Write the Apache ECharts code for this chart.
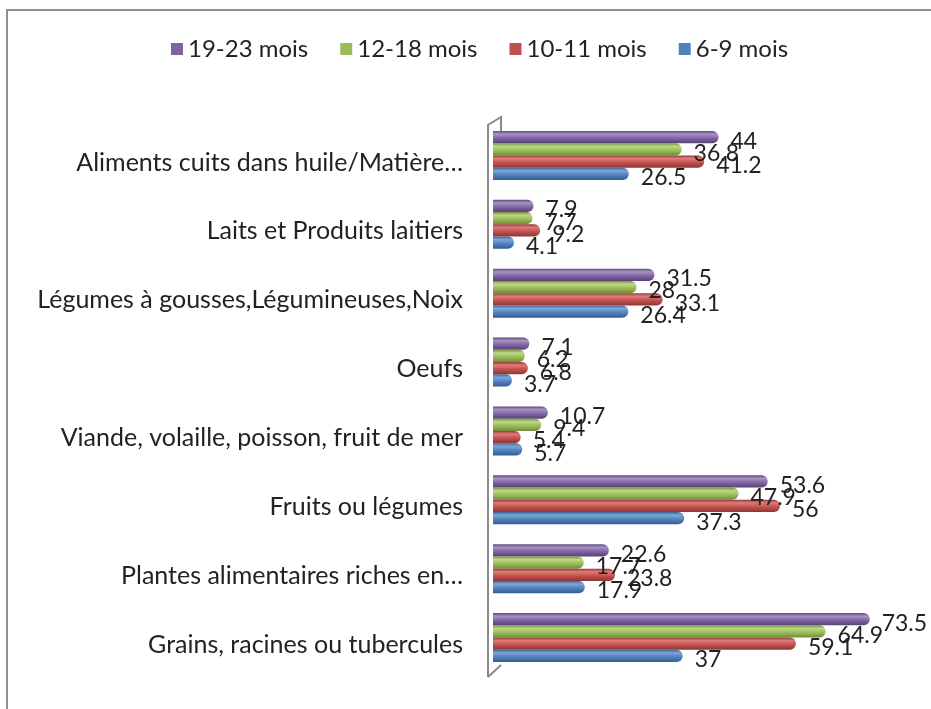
<!DOCTYPE html>
<html>
<head>
<meta charset="utf-8">
<script src="https://cdn.jsdelivr.net/npm/echarts@6/dist/echarts.min.js"></script>
<style>
  html, body { margin: 0; padding: 0; background: #fff; }
  #frame {
    position: absolute; left: 6px; top: 9px; width: 925px; height: 700px;
    border-top: 2px solid #8e8e8e; border-left: 2px solid #8e8e8e;
  }
  #chart { position: absolute; left: 0; top: 0; width: 931px; height: 709px; }
</style>
</head>
<body>
<div id="frame"></div>
<div id="chart"></div>
<script>
// categories bottom -> top (ECharts category axis order)
const categories = [
  "Grains, racines ou tubercules",
  "Plantes alimentaires riches en…",
  "Fruits ou légumes",
  "Viande, volaille, poisson, fruit de mer",
  "Oeufs",
  "Légumes à gousses,Légumineuses,Noix",
  "Laits et Produits laitiers",
  "Aliments cuits dans huile/Matière…"
];

const mois6_9 = [37, 17.9, 37.3, 5.7, 3.7, 26.4, 4.1, 26.5];
const mois10_11 = [59.1, 23.8, 56, 5.4, 6.8, 33.1, 9.2, 41.2];
const mois12_18 = [64.9, 17.7, 47.9, 9.4, 6.2, 28, 7.7, 36.8];
const mois19_23 = [73.5, 22.6, 53.6, 10.7, 7.1, 31.5, 7.9, 44];

const legendOrder = ["19-23 mois", "12-18 mois", "10-11 mois", "6-9 mois"];
const legendColors = ["#8064a2", "#9bbb59", "#c0504d", "#4f81bd"];

const FONT = "Lato, 'Noto Sans', sans-serif";
const GRID_LEFT = 493;
const GRID_TOP = 121;
const GRID_BOTTOM = 37;
const H = 709;

const cylinder = (c) =>
  new echarts.graphic.LinearGradient(0, 0, 0, 1, [
    { offset: 0, color: c[0] },
    { offset: 0.25, color: c[1] },
    { offset: 0.6, color: c[2] },
    { offset: 1, color: c[3] }
  ]);

const makeSeries = (name, data, colors) => ({
  name: name,
  type: "bar",
  data: data,
  barGap: "0%",
  barCategoryGap: "29%",
  itemStyle: {
    color: cylinder(colors),
    borderRadius: [0, 6, 6, 0]
  },
  label: {
    show: true,
    position: "right",
    distance: 6,
    offset: [6, 4],
    color: "#222",
    fontFamily: FONT,
    fontSize: 23
  }
});

const chart = echarts.init(document.getElementById("chart"));

const wallX = GRID_LEFT - 5;
const wallTopY = GRID_TOP + 4;
const wallBottomY = H - GRID_BOTTOM + 5;

chart.setOption({
  backgroundColor: "transparent",
  animation: false,
  legend: {
    data: legendOrder.map((name, i) => ({ name: name, itemStyle: { color: legendColors[i] } })),
    left: 166,
    top: 32,
    itemWidth: 12,
    itemHeight: 12,
    itemGap: 32,
    icon: "rect",
    textStyle: { fontFamily: FONT, fontSize: 24, color: "#222" }
  },
  grid: {
    left: GRID_LEFT,
    right: 28,
    top: GRID_TOP,
    bottom: GRID_BOTTOM,
    containLabel: false
  },
  xAxis: {
    type: "value",
    min: 0,
    max: 80,
    show: false
  },
  yAxis: {
    type: "category",
    data: categories,
    offset: 5,
    axisLine: { show: false },
    axisTick: { show: false },
    axisLabel: {
      margin: 25,
      color: "#222",
      fontFamily: FONT,
      fontSize: 25,
      verticalAlign: "top",
      lineHeight: 14
    }
  },
  // first series is drawn at the top of each group
  series: [
    makeSeries("19-23 mois", mois19_23, ["#5f4a7a", "#a891c6", "#8064a2", "#574172"]),
    makeSeries("12-18 mois", mois12_18, ["#73903c", "#bcd886", "#9bbb59", "#6f8b3b"]),
    makeSeries("10-11 mois", mois10_11, ["#933b39", "#e07b78", "#c0504d", "#8c3735"]),
    makeSeries("6-9 mois", mois6_9, ["#3a6496", "#7fa6d8", "#4f81bd", "#355d8e"])
  ],
  // 3D wall outline (decoration)
  graphic: [
    {
      type: "polyline",
      shape: {
        points: [
          [wallX, wallBottomY],
          [wallX, wallTopY],
          [wallX + 13, wallTopY - 8],
          [wallX + 13, wallTopY + 8]
        ]
      },
      style: { stroke: "#8a8a8a", lineWidth: 2, fill: null },
      z: 0
    },
    {
      type: "line",
      shape: { x1: wallX, y1: wallBottomY, x2: wallX + 13, y2: wallBottomY - 12 },
      style: { stroke: "#8a8a8a", lineWidth: 2 },
      z: 0
    }
  ]
});
</script>
</body>
</html>
